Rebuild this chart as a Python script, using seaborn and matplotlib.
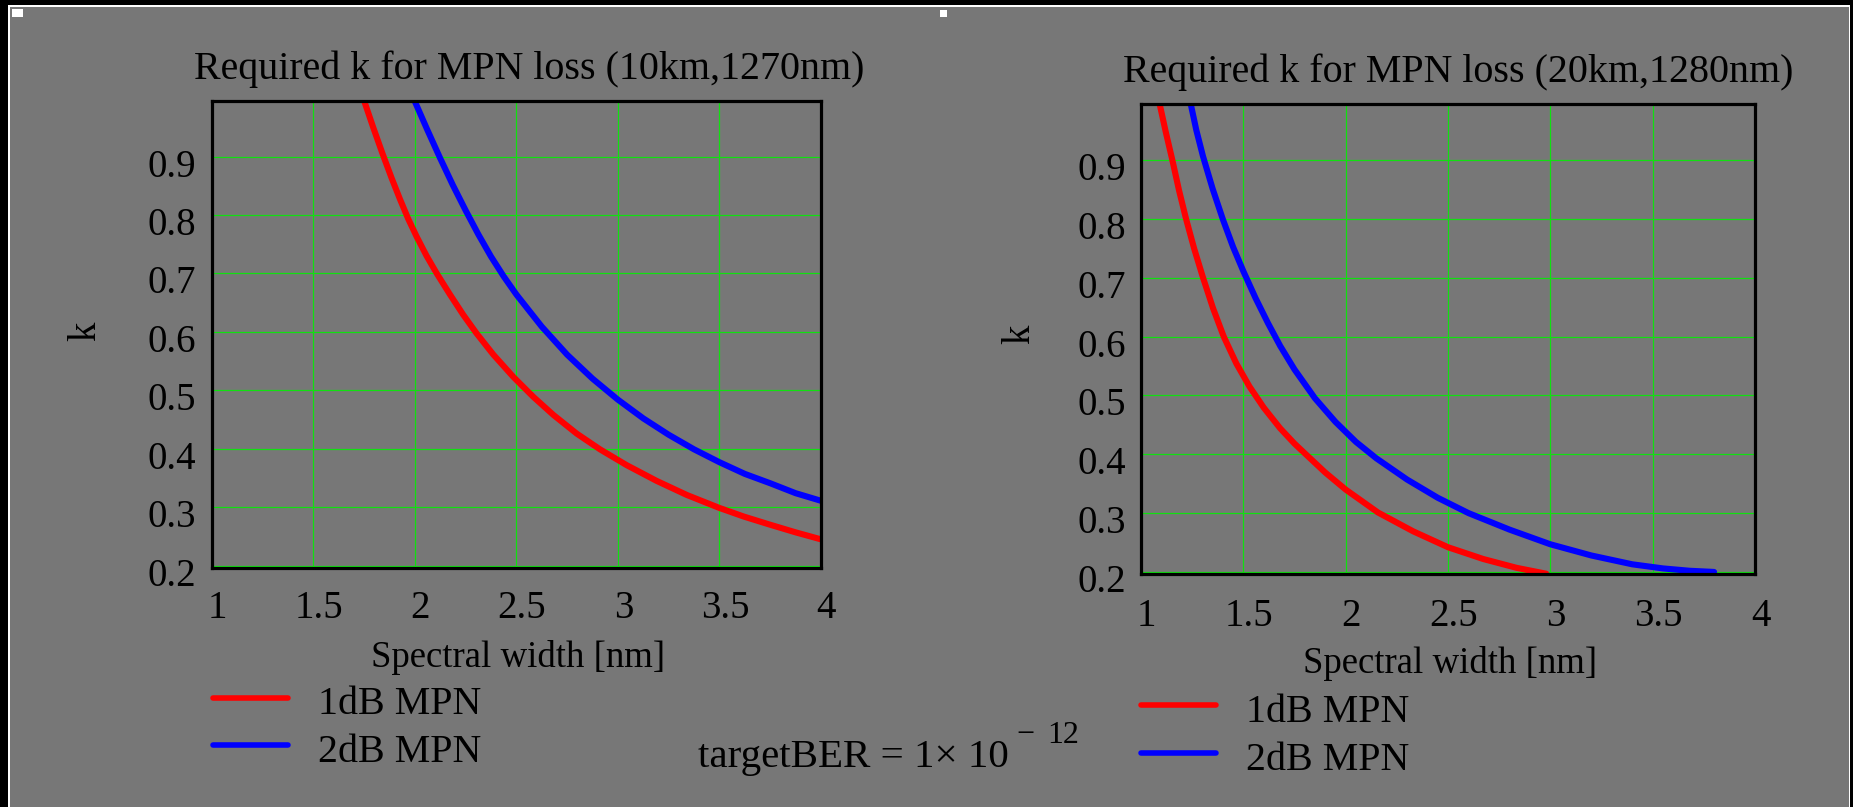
import numpy as np
import pandas as pd
import matplotlib
matplotlib.use("Agg")
import matplotlib.pyplot as plt
import matplotlib.transforms as mtransforms
from matplotlib.patches import Rectangle
from matplotlib.lines import Line2D
import seaborn as sns

# ---------------- data ----------------
# Panel 1: 10 km, 1270 nm
x_10km_1dB = [1.746, 1.796, 1.842, 1.886, 1.927, 1.968, 2.009, 2.058, 2.108, 2.173,
              2.239, 2.305, 2.387, 2.485, 2.583, 2.682, 2.797, 2.912, 3.043, 3.191,
              3.339, 3.498, 3.620, 3.750, 3.875, 4.000]
k_10km_1dB = [1.000, 0.949, 0.904, 0.863, 0.827, 0.793, 0.763, 0.730, 0.700, 0.664,
              0.629, 0.597, 0.561, 0.523, 0.489, 0.458, 0.426, 0.399, 0.372, 0.345,
              0.321, 0.299, 0.284, 0.270, 0.257, 0.245]
x_10km_2dB = [1.993, 2.0625, 2.125, 2.1875, 2.250, 2.3125, 2.375, 2.4375, 2.500, 2.625,
              2.750, 2.875, 3.000, 3.125, 3.250, 3.375, 3.500, 3.625, 3.750, 3.875,
              4.000]
k_10km_2dB = [1.000, 0.945, 0.897, 0.851, 0.808, 0.767, 0.729, 0.695, 0.664, 0.609,
              0.561, 0.520, 0.484, 0.452, 0.424, 0.399, 0.377, 0.357, 0.341, 0.324,
              0.311]
# Panel 2: 20 km, 1280 nm
x_20km_1dB = [1.088, 1.120, 1.153, 1.186, 1.220, 1.260, 1.303, 1.352, 1.404, 1.466,
              1.530, 1.600, 1.680, 1.750, 1.808, 1.900, 2.000, 2.158, 2.330, 2.500,
              2.672, 2.835, 2.980]
k_20km_1dB = [1.000, 0.949, 0.900, 0.848, 0.800, 0.749, 0.700, 0.648, 0.600, 0.554,
              0.515, 0.479, 0.444, 0.418, 0.399, 0.369, 0.340, 0.301, 0.269, 0.242,
              0.222, 0.207, 0.197]
x_20km_2dB = [1.240, 1.270, 1.303, 1.350, 1.400, 1.450, 1.500, 1.560, 1.620, 1.680,
              1.750, 1.850, 1.950, 2.050, 2.150, 2.300, 2.450, 2.600, 2.800, 3.000,
              3.200, 3.400, 3.550, 3.680, 3.800]
k_20km_2dB = [1.000, 0.951, 0.906, 0.851, 0.799, 0.752, 0.711, 0.665, 0.623, 0.584,
              0.544, 0.495, 0.455, 0.421, 0.393, 0.357, 0.326, 0.300, 0.272, 0.247,
              0.228, 0.213, 0.206, 0.202, 0.200]

series_labels = ["1dB MPN", "2dB MPN"]
series_colors = ["#ff0000", "#0000ff"]
panel_titles = ["Required k for MPN loss (10km,1270nm)",
                "Required k for MPN loss (20km,1280nm)"]
x_label = "Spectral width [nm]"
y_label = "k"
x_ticks = [1, 1.5, 2, 2.5, 3, 3.5, 4]
x_tick_labels = ["1", "1.5", "2", "2.5", "3", "3.5", "4"]
y_ticks = [0.2, 0.3, 0.4, 0.5, 0.6, 0.7, 0.8, 0.9]
y_tick_labels = ["0.2", "0.3", "0.4", "0.5", "0.6", "0.7", "0.8", "0.9"]
ber_text = "targetBER = 1\u00d7 10"
ber_minus = "\u2212"
ber_exp = "12"

# ---------------- style ----------------
sns.set_theme(style="white")
plt.rcParams["font.family"] = ["Liberation Serif", "DejaVu Serif"]

W, H = 1853, 807
BG = "#777777"
GRID = "#10e010"
fig = plt.figure(figsize=(W / 100, H / 100), dpi=100)
fig.patch.set_facecolor(BG)


def fx(px):
    return px / W


def fy(py):
    return 1 - py / H


def px_rect(x0, y0, x1, y1, color, z=10):
    fig.add_artist(Rectangle((x0 / W, 1 - y1 / H), (x1 - x0) / W, (y1 - y0) / H,
                             transform=fig.transFigure, facecolor=color,
                             edgecolor="none", zorder=z))


# panel geometry in pixels: (left, top, right, bottom)
panels = [
    dict(box=(211.7, 101.0, 821.0, 568.0),
         xs=(x_10km_1dB, x_10km_2dB), ks=(k_10km_1dB, k_10km_2dB),
         title=panel_titles[0], title_xy=(194.3, 79.0),
         xlabel_xy=(518.0, 666.7), ylabel_xy=(85.8, 331.0),
         xpad=15.8, leg=(212.8, 681.2)),
    dict(box=(1141.0, 104.0, 1755.0, 574.3),
         xs=(x_20km_1dB, x_20km_2dB), ks=(k_20km_1dB, k_20km_2dB),
         title=panel_titles[1], title_xy=(1122.7, 81.7),
         xlabel_xy=(1450.1, 673.3), ylabel_xy=(1019.3, 334.5),
         xpad=17.0, leg=(1141.2, 689.0)),
]

for p in panels:
    l, t, r, b = p["box"]
    ax = fig.add_axes([fx(l), fy(b), (r - l) / W, (b - t) / H])
    ax.set_facecolor(BG)

    x1, x2 = p["xs"]
    k1, k2 = p["ks"]
    df = pd.DataFrame({
        "x": list(x1) + list(x2),
        "k": list(k1) + list(k2),
        "series": [series_labels[0]] * len(x1) + [series_labels[1]] * len(x2),
    })
    sns.lineplot(data=df, x="x", y="k", hue="series",
                 palette=dict(zip(series_labels, series_colors)),
                 estimator=None, sort=False, linewidth=4.4, ax=ax, legend=False)
    for ln in ax.lines:
        ln.set_solid_joinstyle("round")

    ax.set_xlim(1, 4)
    ax.set_ylim(0.196, 0.995)
    ax.set_xticks(x_ticks)
    ax.set_xticklabels(x_tick_labels)
    ax.set_yticks(y_ticks)
    ax.set_yticklabels(y_tick_labels)
    ax.tick_params(axis="both", length=0, labelsize=28, colors="black")
    ax.tick_params(axis="y", pad=11)
    ax.tick_params(axis="x", pad=p["xpad"])
    ax.grid(True, color=GRID, linewidth=0.9)
    ax.set_axisbelow(True)
    for s in ax.spines.values():
        s.set_color("black")
        s.set_linewidth(2.3)
        s.set_visible(True)

    # small offsets of tick labels as in the reference
    off_y = mtransforms.ScaledTranslation(0, -6 / 100, fig.dpi_scale_trans)
    for lab in ax.get_yticklabels():
        lab.set_transform(lab.get_transform() + off_y)
    off_x = mtransforms.ScaledTranslation(5.5 / 100, 0, fig.dpi_scale_trans)
    for lab in ax.get_xticklabels():
        lab.set_transform(lab.get_transform() + off_x)

    # title
    tx, ty = p["title_xy"]
    ax.set_title(p["title"], fontsize=28.8, x=(tx - l) / (r - l), y=(b - ty) / (b - t),
                 ha="left", va="baseline", pad=0, color="black")
    # axis labels
    ax.set_xlabel(x_label, fontsize=26.5, color="black")
    xlx, xly = p["xlabel_xy"]
    ax.xaxis.set_label_coords((xlx - l) / (r - l), (b - xly) / (b - t))
    ax.xaxis.label.set_va("baseline")
    ax.set_ylabel(y_label, fontsize=28, color="black", rotation=90)
    ylx, yly = p["ylabel_xy"]
    ax.yaxis.set_label_coords((ylx - l) / (r - l), (b - yly) / (b - t))
    ax.yaxis.label.set_va("center")
    ax.yaxis.label.set_ha("center")

    # legend below the panel
    handles = [Line2D([], [], color=c, lw=4, solid_capstyle="round") for c in series_colors]
    lgx, lgy = p["leg"]
    leg = ax.legend(handles, series_labels, loc="upper left",
                    bbox_to_anchor=(fx(lgx), fy(lgy)), bbox_transform=fig.transFigure,
                    frameon=False, borderpad=0, borderaxespad=0, fontsize=28.8,
                    handlelength=1.875, handleheight=1.1, handletextpad=0.75,
                    labelspacing=0.15)
    for txt in leg.get_texts():
        txt.set_color("black")

# target BER annotation
fig.text(fx(698.0), fy(766.7), ber_text, fontsize=29.5, ha="left", va="baseline", color="black")
fig.text(fx(1016.5), fy(743.3), ber_minus, fontsize=23, ha="left", va="baseline", color="black")
fig.text(fx(1047.0), fy(743.3), ber_exp, fontsize=23, ha="left", va="baseline", color="black")

# outer frame of the worksheet region
px_rect(0, 0, W, 5.4, "black")
px_rect(0, 0, 8.3, H, "black")
px_rect(1850, 0, W, H, "black")
px_rect(8.3, 5.4, 1850, 6.8, "white")
px_rect(8.3, 5.4, 9.7, H, "white")
px_rect(1848.6, 5.4, 1850, H, "white")
# selection handles
px_rect(12, 9.3, 23, 16.7, "white")
px_rect(940, 10, 947, 16.5, "white")

fig.savefig("out.png", dpi=100, facecolor=fig.get_facecolor())
